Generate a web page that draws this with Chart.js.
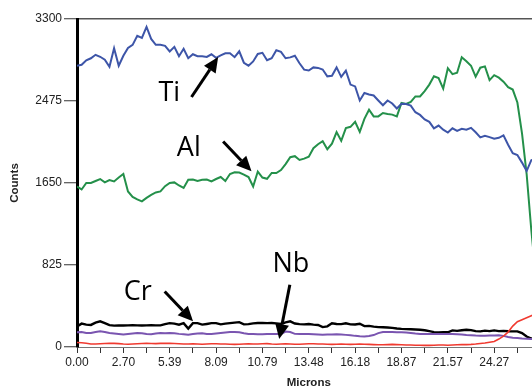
<!DOCTYPE html>
<html>
<head>
<meta charset="utf-8">
<script src="https://cdn.jsdelivr.net/npm/chart.js@4.4.0/dist/chart.umd.min.js"></script>
<style>
    html, body { margin: 0; padding: 0; background: #fff; overflow: hidden; }
    canvas { display: block; }
</style>
</head>
<body>
<canvas id="profileChart" width="560" height="390"></canvas>
<script>
// ========== Data ==========
// sample spacing along the line scan (microns)
const micronStep = 0.26963;
const micronMax = 26.96;
const micronTickLabels = ['0.00', '2.70', '5.39', '8.09', '10.79', '13.48', '16.18', '18.87', '21.57', '24.27'];
const countTicks = [0, 825, 1650, 2475, 3300];

const tiCounts = [
    2830, 2840, 2885, 2905, 2940, 2920, 2890, 2820, 3005, 2830,
    2930, 3008, 3040, 3130, 3110, 3220, 3100, 3040, 3040, 3030,
    2974, 3020, 2925, 3000, 2905, 2945, 2925, 2924, 2918, 2945,
    2910, 2935, 2955, 2955, 2916, 2975, 2860, 2830, 2873, 2948,
    2960, 2885, 2905, 2985, 2970, 2905, 2914, 2930, 2855, 2790,
    2782, 2813, 2808, 2792, 2723, 2728, 2813, 2718, 2780, 2640,
    2622, 2480, 2555, 2540, 2530, 2480, 2432, 2480, 2450, 2400,
    2447, 2445, 2428, 2362, 2335, 2290, 2265, 2200, 2228, 2186,
    2158, 2200, 2175, 2195, 2186, 2205, 2160, 2109, 2125, 2112,
    2095, 2105, 2129, 2035, 1950, 1932, 1855, 1770, 1880, 1900, 1900
];
const alCounts = [
    1615, 1585, 1650, 1650, 1670, 1690, 1656, 1680, 1666, 1705,
    1740, 1565, 1510, 1485, 1465, 1500, 1530, 1555, 1565, 1618,
    1650, 1656, 1625, 1600, 1683, 1685, 1670, 1683, 1685, 1666,
    1690, 1710, 1670, 1740, 1757, 1755, 1735, 1710, 1615, 1765,
    1705, 1692, 1751, 1750, 1780, 1840, 1910, 1920, 1882, 1895,
    1915, 2000, 2040, 2070, 1990, 2045, 2163, 2075, 2203, 2215,
    2265, 2165, 2295, 2387, 2320, 2320, 2354, 2345, 2338, 2320,
    2455, 2445, 2465, 2521, 2521, 2575, 2640, 2723, 2705, 2600,
    2805, 2745, 2760, 2915, 2875, 2830, 2720, 2810, 2823, 2685,
    2735, 2710, 2670, 2615, 2590, 2460, 2150, 1740, 1180, 700, 500
];
const crCounts = [
    207, 235, 225, 222, 245, 258, 240, 220, 215, 218,
    216, 218, 220, 218, 216, 218, 220, 218, 218, 230,
    240, 235, 225, 240, 185, 240, 240, 225, 232, 240,
    240, 228, 235, 240, 245, 250, 228, 230, 238, 242,
    242, 240, 242, 238, 232, 248, 258, 236, 230, 228,
    232, 225, 222, 200, 208, 238, 232, 230, 238, 228,
    226, 234, 210, 212, 205, 200, 198, 196, 192, 186,
    182, 180, 178, 176, 174, 168, 160, 150, 147, 150,
    148, 167, 162, 168, 174, 170, 160, 157, 165, 160,
    167, 160, 162, 158, 157, 157, 140, 105, 85, 80, 80
];
const nbCounts = [
    148, 150, 140, 140, 150, 158, 150, 140, 135, 130,
    125, 130, 135, 140, 138, 130, 128, 135, 140, 138,
    142, 138, 132, 128, 124, 130, 135, 138, 132, 130,
    135, 140, 145, 150, 152, 148, 138, 132, 130, 128,
    128, 130, 132, 130, 131, 155, 150, 132, 130, 131,
    130, 128, 126, 124, 125, 125, 128, 125, 122, 118,
    112, 108, 106, 110, 120, 140, 150, 152, 150, 148,
    148, 145, 140, 135, 132, 131, 130, 130, 131, 130,
    132, 130, 128, 125, 120, 118, 115, 114, 114, 115,
    116, 118, 112, 100, 92, 90, 85, 82, 80, 80, 80
];
const redCounts = [
    45, 42, 38, 30, 30, 32, 35, 38, 36, 34,
    30, 28, 30, 32, 35, 36, 35, 34, 36, 38,
    36, 35, 32, 30, 30, 32, 30, 28, 30, 32,
    32, 30, 30, 28, 26, 28, 30, 32, 30, 30,
    32, 34, 30, 28, 30, 32, 30, 28, 28, 30,
    32, 32, 30, 30, 28, 26, 28, 30, 28, 26,
    28, 30, 28, 26, 24, 22, 22, 24, 26, 24,
    22, 20, 20, 18, 18, 16, 16, 18, 20, 20,
    18, 20, 22, 24, 24, 26, 30, 36, 40, 48,
    55, 80, 110, 150, 210, 255, 275, 295, 315, 335, 345
];
const microns = tiCounts.map((_, i) => i * micronStep);

// Labels with arrows (data coordinates: microns, counts)
const callouts = [
    { text: 'Ti', x: 5.37, y: 2548, from: [6.66, 2515], to: [8.21, 2917] },
    { text: 'Al', x: 6.50, y: 1995, from: [8.50, 2068], to: [10.15, 1767] },
    { text: 'Cr', x: 3.53, y: 547,  from: [5.10, 559],  to: [6.75, 258] },
    { text: 'Nb', x: 12.44, y: 828, from: [12.38, 627], to: [11.76, 80] }
];

// ========== Helpers ==========
function toPoints(values) {
    return values.map((v, i) => ({ x: microns[i], y: v }));
}

function lineSet(label, values, color, width) {
    return {
        label: label,
        data: toPoints(values),
        borderColor: color,
        borderWidth: width,
        pointRadius: 0,
        tension: 0,
        fill: false
    };
}

// ========== Callout plugin ==========
const calloutPlugin = {
    id: 'callouts',
    afterDatasetsDraw(chart) {
        const { ctx, scales } = chart;
        const px = v => scales.x.getPixelForValue(v);
        const py = v => scales.y.getPixelForValue(v);
        ctx.save();
        ctx.fillStyle = '#000';
        ctx.strokeStyle = '#000';
        ctx.font = "27px 'Open Sans', sans-serif";
        ctx.textAlign = 'center';
        ctx.textBaseline = 'middle';
        callouts.forEach(c => {
            ctx.fillText(c.text, px(c.x), py(c.y));

            const x1 = px(c.from[0]), y1 = py(c.from[1]);
            const x2 = px(c.to[0]), y2 = py(c.to[1]);
            const ang = Math.atan2(y2 - y1, x2 - x1);
            const headLen = 15, headHalf = 7;
            const bx = x2 - headLen * Math.cos(ang);
            const by = y2 - headLen * Math.sin(ang);

            ctx.lineWidth = 3;
            ctx.beginPath();
            ctx.moveTo(x1, y1);
            ctx.lineTo(bx, by);
            ctx.stroke();

            ctx.beginPath();
            ctx.moveTo(x2, y2);
            ctx.lineTo(bx + headHalf * Math.sin(ang), by - headHalf * Math.cos(ang));
            ctx.lineTo(bx - headHalf * Math.sin(ang), by + headHalf * Math.cos(ang));
            ctx.closePath();
            ctx.fill();
        });
        ctx.restore();
    }
};

// ========== Chart ==========
// labelled ticks plus an unlabelled tick half-way between each pair
const xTickValues = [];
micronTickLabels.forEach((lbl, i) => {
    const v = parseFloat(lbl);
    const next = i < micronTickLabels.length - 1 ? parseFloat(micronTickLabels[i + 1]) : micronMax;
    xTickValues.push({ value: v, label: lbl });
    xTickValues.push({ value: (v + next) / 2, label: '' });
});

const tickFont = { family: "'Liberation Sans', Arial, sans-serif", size: 12 };
const titleFont = { family: "'Liberation Sans', Arial, sans-serif", size: 11.5, weight: 'bold' };

new Chart(document.getElementById('profileChart'), {
    type: 'line',
    data: {
        datasets: [
            lineSet('Red', redCounts, '#f03a30', 1.6),
            lineSet('Ti', tiCounts, '#3d55a8', 2),
            lineSet('Al', alCounts, '#24904a', 2),
            lineSet('Nb', nbCounts, '#7a55b0', 2),
            lineSet('Cr', crCounts, '#000000', 2.4)
        ]
    },
    options: {
        responsive: false,
        animation: false,
        devicePixelRatio: 1,
        layout: { padding: { left: 0, top: 19, right: 19.5, bottom: 0 } },
        plugins: {
            legend: { display: false },
            tooltip: { enabled: false }
        },
        scales: {
            x: {
                type: 'linear',
                min: 0,
                max: micronMax,
                afterBuildTicks: scale => {
                    scale.ticks = xTickValues.map(t => ({ value: t.value }));
                },
                afterFit: scale => { scale.height = 43; },
                ticks: {
                    autoSkip: false,
                    maxRotation: 0,
                    padding: 2,
                    color: '#222',
                    font: tickFont,
                    callback: (v, i) => xTickValues[i] ? xTickValues[i].label : ''
                },
                grid: {
                    drawOnChartArea: false,
                    tickLength: 6,
                    color: '#333',
                    tickColor: '#333'
                },
                border: { color: '#777', width: 1 },
                title: {
                    display: true,
                    text: 'Microns',
                    color: '#222',
                    font: titleFont,
                    padding: { top: 0, bottom: 0 }
                }
            },
            y: {
                min: 0,
                max: 3300,
                afterBuildTicks: scale => {
                    scale.ticks = countTicks.map(v => ({ value: v }));
                },
                afterFit: scale => { scale.width = 77; },
                ticks: {
                    padding: 2,
                    color: '#222',
                    font: tickFont,
                    callback: v => String(v)
                },
                grid: {
                    drawOnChartArea: true,
                    tickLength: 13,
                    color: c => (c.tick && c.tick.value === 3300) ? '#555' : 'rgba(0,0,0,0)',
                    lineWidth: 1.5,
                    tickColor: '#333',
                    tickWidth: 1
                },
                border: { color: '#000', width: 3 },
                title: {
                    display: true,
                    text: 'Counts',
                    color: '#222',
                    font: titleFont,
                    padding: { top: 8, bottom: 0 }
                }
            }
        }
    },
    plugins: [calloutPlugin]
});
</script>
</body>
</html>
